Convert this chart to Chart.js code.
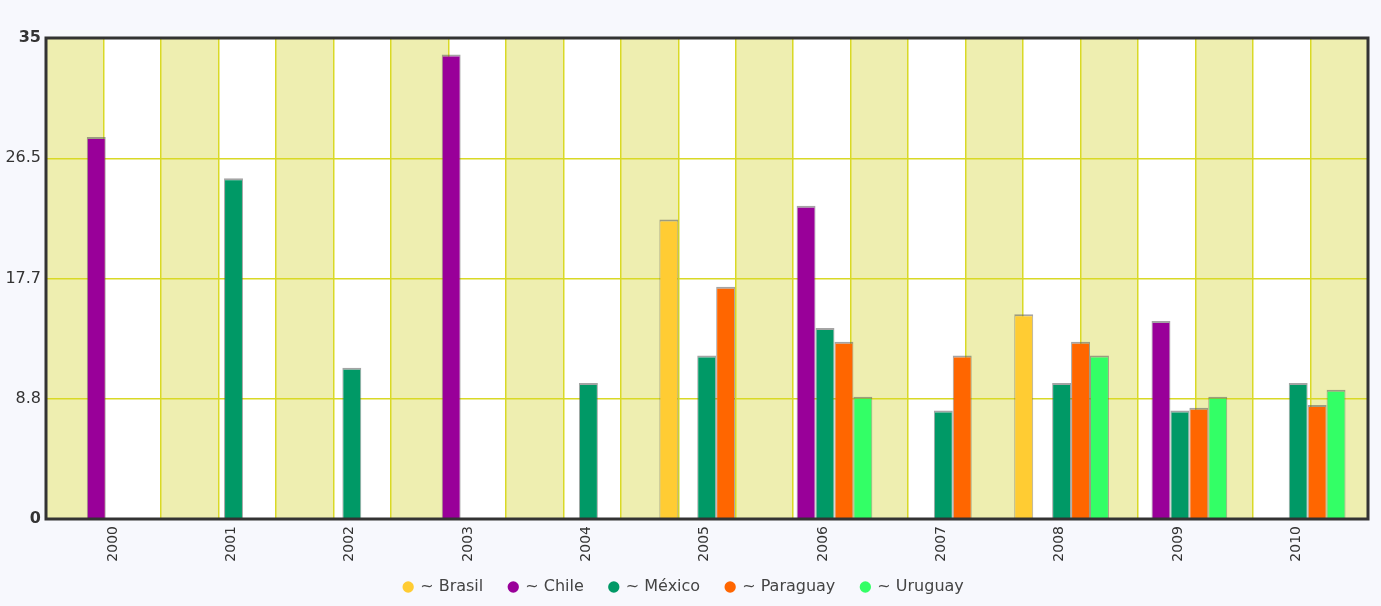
<!DOCTYPE html>
<html>
<head>
<meta charset="utf-8">
<style>
  html, body { margin: 0; padding: 0; background: #F7F8FD; }
  #wrap { width: 1381px; height: 606px; }
</style>
<script src="https://cdn.jsdelivr.net/npm/chart.js@4/dist/chart.umd.min.js"></script>
</head>
<body>
<div id="wrap"><canvas id="c" width="1381" height="606"></canvas></div>
<script>
// Categories and series
const years = ['2000', '2001', '2002', '2003', '2004', '2005', '2006', '2007', '2008', '2009', '2010'];
const brasil   = [null, null, null, null, null, 21.8, null, null, 14.9, null, null];
const chile    = [27.8, null, null, 33.8, null, null, 22.8, null, null, 14.4, null];
const mexico   = [null, 24.8, 11.0, null, 9.9, 11.9, 13.9, 7.9, 9.9, 7.9, 9.9];
const paraguay = [null, null, null, null, null, 16.9, 12.9, 11.9, 12.9, 8.1, 8.3];
const uruguay  = [null, null, null, null, null, null, 8.9, null, 11.9, 8.9, 9.4];

// Value axis tick labels
const yTickLabels = ['0', '8.8', '17.7', '26.5', '35'];
const yMax = 35;

const seriesNames  = ['Brasil', 'Chile', 'México', 'Paraguay', 'Uruguay'];
const seriesColors = ['#FFCC33', '#990099', '#009966', '#FF6600', '#33FF66'];
const seriesValues = [brasil, chile, mexico, paraguay, uruguay];

const STRIPES = 23;
const STRIPE_YELLOW = '#EEEEB0';
const GRID_COLOR = '#D9D926';
const FONT = '"DejaVu Sans", Verdana, sans-serif';
const LEGEND_LIFT = 10;

// Alternating vertical bands behind the plot, plus the dark frame
const plotFrame = {
  id: 'plotFrame',
  afterLayout(chart) {
    // pull the legend row up a little closer to the year labels
    const lg = chart.legend;
    if (lg) { lg.top -= LEGEND_LIFT; lg.bottom -= LEGEND_LIFT; }
  },
  beforeDraw(chart) {
    const { ctx, chartArea: a } = chart;
    const g = chart.scales.xg;
    ctx.save();
    ctx.fillStyle = '#F7F8FD';
    ctx.fillRect(0, 0, chart.width, chart.height);
    ctx.fillStyle = '#FFFFFF';
    ctx.fillRect(a.left, a.top, a.right - a.left, a.bottom - a.top);
    ctx.fillStyle = STRIPE_YELLOW;
    for (let i = 0; i < STRIPES; i += 2) {
      const x0 = g.getPixelForValue(i);
      const x1 = g.getPixelForValue(i + 1);
      ctx.fillRect(x0, a.top, x1 - x0, a.bottom - a.top);
    }
    ctx.restore();
  },
  afterDatasetsDraw(chart) {
    const { ctx, chartArea: a } = chart;
    ctx.save();
    ctx.strokeStyle = '#333333';
    ctx.lineWidth = 3;
    ctx.strokeRect(a.left, a.top, a.right - a.left, a.bottom - a.top);
    ctx.restore();
  }
};

const datasets = seriesNames.map((name, k) => ({
  label: name,
  data: seriesValues[k].map((v, i) => ({ x: i, y: v })),
  backgroundColor: seriesColors[k],
  borderColor: 'rgba(90,90,90,0.55)',
  borderWidth: { top: 2, left: 1, right: 1, bottom: 0 },
  categoryPercentage: 0.8,
  barPercentage: 1.0
}));

new Chart(document.getElementById('c'), {
  type: 'bar',
  data: { datasets },
  plugins: [plotFrame],
  options: {
    responsive: false,
    animation: false,
    layout: { padding: { left: 0, right: 13, top: 38, bottom: 0 } },
    plugins: {
      tooltip: { enabled: false },
      legend: {
        position: 'bottom',
        maxHeight: 43,
        labels: {
          usePointStyle: true,
          pointStyle: 'circle',
          boxWidth: 8,
          boxHeight: 8,
          padding: 26,
          color: '#444444',
          font: { family: FONT, size: 16 },
          generateLabels(chart) {
            return chart.data.datasets.map((d, i) => ({
              text: '~ ' + d.label,
              fillStyle: d.backgroundColor,
              strokeStyle: d.backgroundColor,
              lineWidth: 0,
              pointStyle: 'circle',
              hidden: false,
              datasetIndex: i,
              fontColor: '#444444'
            }));
          }
        }
      }
    },
    scales: {
      x: {
        type: 'linear',
        position: 'bottom',
        min: -0.585,
        max: 10.59,
        offset: false,
        afterBuildTicks(s) { s.ticks = years.map((_, i) => ({ value: i })); },
        afterFit(s) { s.height = 44; },
        ticks: {
          autoSkip: false,
          minRotation: 90,
          maxRotation: 90,
          padding: 7,
          labelOffset: -2,
          color: '#333333',
          font: { family: FONT, size: 14 },
          callback: (v) => years[v]
        },
        grid: { display: false, drawTicks: false, offset: false },
        border: { display: false }
      },
      xg: {
        type: 'linear',
        position: 'top',
        min: 0,
        max: STRIPES,
        offset: false,
        afterBuildTicks(s) {
          const t = [];
          for (let i = 0; i <= STRIPES; i++) t.push({ value: i });
          s.ticks = t;
        },
        afterFit(s) { s.height = 0; },
        ticks: { display: false },
        grid: { color: GRID_COLOR, lineWidth: 1.5, drawTicks: false, offset: false },
        border: { display: false }
      },
      y: {
        type: 'linear',
        min: 0,
        max: yMax,
        afterBuildTicks(s) {
          s.ticks = yTickLabels.map((_, i) => ({ value: yMax * i / (yTickLabels.length - 1) }));
        },
        afterFit(s) { s.width = 46; },
        ticks: {
          padding: 5,
          color: '#333333',
          font: (ctx) => ({
            family: FONT,
            size: 16,
            weight: (ctx.index === 0 || ctx.index === yTickLabels.length - 1) ? 'bold' : 'normal'
          }),
          callback: (v, i) => yTickLabels[i]
        },
        grid: { color: GRID_COLOR, lineWidth: 1.5, drawTicks: false },
        border: { display: false }
      }
    }
  }
});
</script>
</body>
</html>
